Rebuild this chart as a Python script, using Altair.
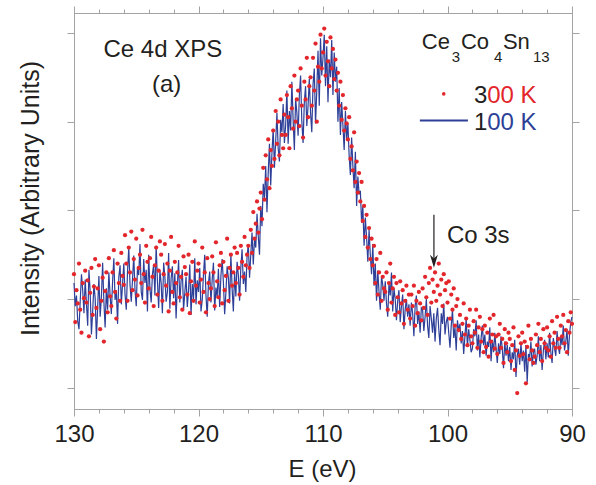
import altair as alt
import pandas as pd

# ---------------- data ----------------
E_START = 130.0   # eV, first channel
E_STEP = 0.1      # eV per channel (energy decreasing)

# 100 K spectrum (blue line), arbitrary units, one row = 1 eV (10 channels)
int_100K = [
    118, 92, 104, 75, 66, 98, 128, 110, 84, 122,
    95, 70, 133, 108, 60, 86, 117, 101, 55, 90,
    126, 80, 102, 141, 97, 68, 112, 88, 130, 104,
    83, 120, 146, 99, 110, 72, 125, 138, 94, 117,
    140, 105, 88, 131, 158, 116, 97, 122, 149, 110,
    92, 136, 127, 162, 108, 99, 145, 118, 133, 86,
    150, 112, 96, 128, 139, 104, 160, 121, 90, 132,
    118, 84, 141, 125, 97, 108, 152, 89, 123, 137,
    101, 129, 78, 115, 144, 96, 120, 133, 88, 107,
    125, 91, 110, 139, 82, 117, 100, 146, 94, 121,
    108, 135, 86, 99, 128, 150, 104, 80, 118, 131,
    96, 122, 141, 87, 113, 102, 134, 91, 126, 145,
    119, 83, 107, 137, 124, 95, 151, 112, 86, 130,
    103, 142, 127, 98, 136, 156, 117, 131, 108, 148,
    162, 124, 150, 175, 139, 168, 158, 196, 171, 150,
    205, 182, 230, 214, 250, 198, 242, 275, 228, 265,
    292, 248, 278, 310, 270, 255, 302, 288, 320, 276,
    296, 335, 275, 312, 290, 345, 302, 268, 326, 310,
    284, 330, 352, 300, 276, 322, 340, 295, 318, 348,
    310, 288, 342, 360, 298, 335, 380, 318, 394, 352,
    372, 398, 340, 385, 322, 370, 350, 392, 330, 378,
    345, 362, 300, 338, 285, 322, 296, 268, 312, 280,
    298, 262, 240, 282, 250, 225, 266, 205, 238, 218,
    222, 186, 205, 160, 192, 170, 142, 178, 150, 128,
    162, 115, 140, 98, 132, 108, 88, 126, 116, 98,
    120, 95, 80, 118, 104, 130, 86, 112, 100, 76,
    98, 110, 74, 92, 105, 66, 88, 100, 80, 94,
    70, 96, 84, 58, 92, 104, 72, 86, 62, 90,
    88, 64, 80, 100, 70, 56, 92, 78, 62, 84,
    52, 78, 90, 66, 48, 84, 72, 95, 60, 74,
    80, 62, 45, 70, 88, 56, 68, 42, 76, 64,
    72, 50, 64, 38, 58, 78, 46, 66, 54, 40,
    44, 66, 58, 76, 42, 60, 34, 56, 70, 48,
    60, 36, 52, 46, 68, 30, 54, 40, 62, 44,
    28, 50, 38, 58, 44, 22, 52, 36, 48, 30,
    46, 20, 40, 32, 54, 12, 36, 44, 26, 50,
    30, 42, 18, 48, 6, 38, 34, 52, 24, 40,
    44, 26, 36, 58, 30, 48, 20, 42, 54, 32,
    50, 34, 62, 40, 28, 56, 44, 36, 64, 46,
    38, 58, 48, 70, 42, 52, 66, 36, 60, 74,
    80,
]

# 300 K spectrum (red dots)
int_300K = [
    128, 74, 110, 95, 140, 88, 62, 118, 101, 132,
    96, 121, 58, 107, 135, 82, 114, 145, 90, 112,
    138, 66, 98, 124, 52, 109, 130, 85, 146, 103,
    92, 130, 155, 108, 78, 140, 118, 98, 152, 126,
    116, 172, 140, 98, 158, 130, 176, 110, 145, 122,
    168, 104, 135, 150, 118, 178, 128, 96, 160, 142,
    112, 146, 170, 125, 92, 138, 158, 105, 132, 165,
    150, 98, 128, 162, 115, 140, 86, 132, 170, 108,
    95, 142, 118, 130, 160, 102, 125, 88, 148, 136,
    128, 105, 150, 84, 120, 142, 98, 165, 115, 132,
    140, 96, 122, 158, 108, 130, 85, 146, 118, 100,
    112, 148, 130, 92, 164, 120, 102, 138, 152, 95,
    142, 110, 126, 168, 98, 135, 150, 115, 130, 158,
    118, 152, 135, 105, 160, 142, 125, 170, 138, 150,
    160, 135, 178, 152, 198, 168, 185, 210, 175, 202,
    220, 190, 248, 212, 262, 235, 280, 225, 268, 250,
    290, 258, 312, 275, 300, 262, 325, 285, 270, 308,
    285, 330, 305, 270, 340, 315, 292, 352, 300, 325,
    335, 295, 360, 318, 282, 345, 325, 372, 305, 340,
    350, 318, 372, 335, 388, 300, 362, 345, 398, 360,
    378, 405, 352, 390, 368, 340, 395, 360, 382, 348,
    370, 335, 355, 318, 345, 302, 330, 290, 315, 298,
    280, 305, 258, 272, 245, 288, 232, 255, 220, 242,
    210, 232, 188, 205, 170, 195, 158, 180, 145, 168,
    138, 160, 118, 145, 105, 130, 152, 98, 125, 112,
    108, 130, 88, 118, 140, 96, 112, 125, 82, 118,
    102, 85, 120, 95, 110, 72, 98, 115, 88, 105,
    78, 105, 92, 115, 70, 98, 84, 108, 95, 76,
    112, 90, 125, 102, 82, 118, 135, 96, 122, 108,
    130, 98, 115, 140, 105, 122, 92, 128, 110, 118,
    96, 120, 78, 105, 88, 112, 70, 92, 100, 65,
    82, 55, 72, 95, 60, 78, 48, 70, 88, 58,
    50, 75, 62, 88, 45, 68, 80, 52, 66, 40,
    70, 46, 62, 35, 78, 52, 60, 82, 44, 58,
    38, 60, 72, 45, 55, 28, 66, 50, 40, 62,
    55, 30, 48, 68, 20, 42, -6, 58, 36, 50,
    62, 38, 52, 5, 46, 70, 32, 55, 42, 28,
    35, 60, 48, 72, 40, 55, 30, 66, 50, 45,
    68, 42, 58, 35, 75, 50, 62, 45, 80, 55,
    45, 70, 58, 82, 50, 65, 40, 75, 62, 85,
    72,
]

x_ticks = [130, 128, 126, 124, 122, 120, 118, 116, 114, 112, 110,
           108, 106, 104, 102, 100, 98, 96, 94, 92, 90]
y_ticks = [0, 100, 200, 300, 400]

# annotation texts (placed in data coordinates: eV, intensity)
ann_text = ["Ce 4d XPS", "(a)", "Ce", "3", "Co", "4", "Sn", "13",
            "3", "00 K", "1", "00 K", "Co 3s"]
ann_E = [127.63, 123.74, 102.06, 99.65, 98.92, 96.27, 95.55, 93.13,
         97.87, 96.81, 97.87, 96.81, 100.05]
ann_I = [373.0, 333.5, 382.0, 367.3, 382.0, 367.3, 382.0, 367.3,
         321.1, 321.1, 290.7, 290.7, 163.4]
ann_color = ["#231f20"] * 9 + ["#e3262b", "#231f20", "#2e3f98", "#231f20"]
ann_size = [24, 24, 22, 15, 22, 15, 22, 15, 24, 24, 24, 24, 24]

# ---------------- styling ----------------
FONT = "Liberation Sans"
RED = "#e3262b"
BLUE = "#2e3f98"
DARK = "#231f20"
FRAME = "#a3a3a3"

energy = [round(E_START - E_STEP * i, 1) for i in range(len(int_100K))]
df_b = pd.DataFrame({"E": energy, "I": int_100K})
df_r = pd.DataFrame({"E": energy, "I": int_300K})
df_ann = pd.DataFrame({"t": ann_text, "E": ann_E, "I": ann_I,
                       "c": ann_color, "s": ann_size})

xscale = alt.Scale(domain=[90, 130], reverse=True, nice=False, zero=False)
yscale = alt.Scale(domain=[-24, 422.5], nice=False, zero=False)

major_test = "datum.value % 10 === 0"
tick_cond = {"condition": {"test": major_test, "value": 7}, "value": 4}

x_bottom = alt.Axis(orient="bottom", values=x_ticks, tickSize=tick_cond,
                    labelExpr="datum.value % 10 === 0 ? datum.label : ''",
                    labelFontSize=24, labelPadding=6, labelColor=DARK,
                    labelFont=FONT, labelFlush=False, labelOverlap=False,
                    grid=False,
                    title="E (eV)", titleFontSize=24, titleFont=FONT,
                    titleFontWeight="normal", titleColor=DARK,
                    titleX=248, titleY=67, titleBaseline="alphabetic",
                    titleAlign="center")
x_top = alt.Axis(orient="top", values=x_ticks, tickSize=tick_cond,
                 labels=False, title=None, grid=False)
y_left = alt.Axis(orient="left", values=y_ticks, tickSize=7, labels=False,
                  grid=False, title="Intensity (Arbitrary Units)",
                  titleFontSize=25, titleFont=FONT, titleFontWeight="normal",
                  titleColor=DARK, titleAngle=270, titleX=-36, titleY=185,
                  titleBaseline="alphabetic", titleAlign="center")
y_right = alt.Axis(orient="right", values=y_ticks, tickSize=7, labels=False,
                   grid=False, title=None)

line = alt.Chart(df_b).mark_line(color=BLUE, strokeWidth=1.2).encode(
    x=alt.X("E:Q", scale=xscale, axis=x_bottom),
    y=alt.Y("I:Q", scale=yscale, axis=y_left),
)
pts = alt.Chart(df_r).mark_circle(color=RED, size=18, opacity=1).encode(
    x=alt.X("E:Q", scale=xscale, axis=x_top),
    y=alt.Y("I:Q", scale=yscale, axis=y_right),
)

texts = alt.Chart(df_ann).mark_text(font=FONT, align="left",
                                    baseline="alphabetic").encode(
    x=alt.X("E:Q", scale=xscale, axis=None),
    y=alt.Y("I:Q", scale=yscale, axis=None),
    text="t:N",
    color=alt.Color("c:N", scale=None),
    size=alt.Size("s:Q", scale=None),
)

leg_dot = alt.Chart(pd.DataFrame({"E": [100.30], "I": [331.3]})).mark_circle(
    color=RED, size=13, opacity=1).encode(
    x=alt.X("E:Q", scale=xscale, axis=None),
    y=alt.Y("I:Q", scale=yscale, axis=None),
)
leg_line = alt.Chart(pd.DataFrame({"E1": [102.22], "E2": [98.36], "I": [301.4]})).mark_rule(
    color=BLUE, strokeWidth=2).encode(
    x=alt.X("E1:Q", scale=xscale, axis=None),
    x2="E2:Q",
    y=alt.Y("I:Q", scale=yscale, axis=None),
)
arrow = alt.Chart(pd.DataFrame({"E": [101.09], "I1": [194.9], "I2": [142.0]})).mark_rule(
    color=DARK, strokeWidth=1.2).encode(
    x=alt.X("E:Q", scale=xscale, axis=None),
    y=alt.Y("I1:Q", scale=yscale, axis=None),
    y2="I2:Q",
)
arrow_head = alt.Chart(pd.DataFrame({"E": [101.09], "I": [142.5]})).mark_point(
    shape="M0,1L-0.6,-1L0,-0.45L0.6,-1Z", filled=True, size=169,
    color=DARK, opacity=1).encode(
    x=alt.X("E:Q", scale=xscale, axis=None),
    y=alt.Y("I:Q", scale=yscale, axis=None),
)

chart = alt.layer(line, pts, texts, leg_dot, leg_line, arrow,
                  arrow_head).resolve_axis(
    x="independent", y="independent"
).properties(
    width=498, height=396,
    autosize=alt.AutoSizeParams(type="none"),
    padding={"left": 74, "top": 13, "right": 24, "bottom": 76},
    background="white",
).configure_view(stroke=FRAME, strokeWidth=1).configure_axis(
    domainColor=FRAME, tickColor=FRAME, domainWidth=1, tickWidth=1,
)

chart.save("out.html", embed_options={"renderer": "svg", "actions": False})
